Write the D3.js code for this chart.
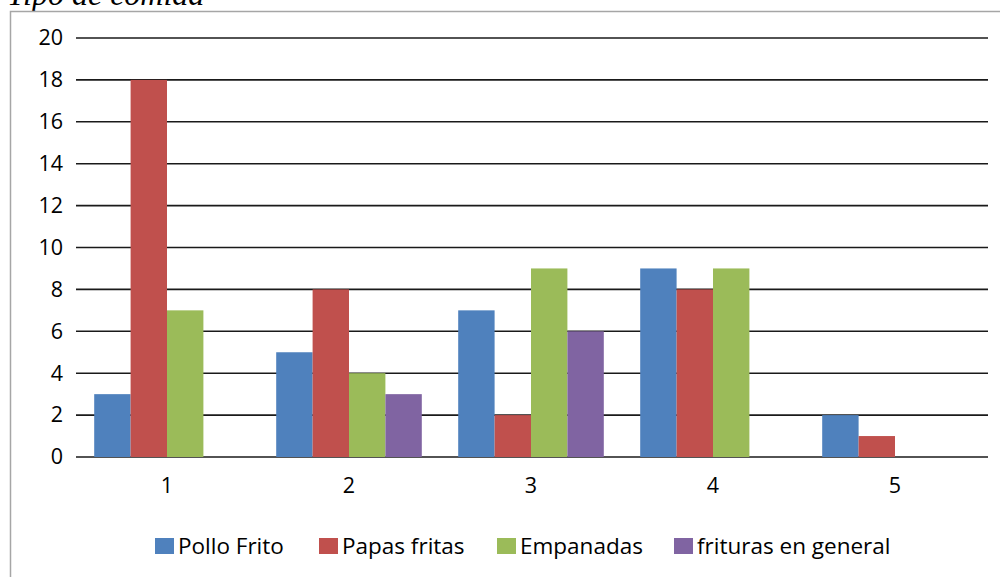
<!DOCTYPE html>
<html>
<head>
<meta charset="utf-8">
<script src="https://cdn.jsdelivr.net/npm/d3@7"></script>
<style>
  html, body { margin: 0; padding: 0; background: #fff; }
  svg { display: block; }
</style>
</head>
<body>
<svg id="chart" width="1000" height="577"></svg>
<script>
// Food type survey: counts per category
const categories = ["1", "2", "3", "4", "5"];
const seriesNames = ["Pollo Frito", "Papas fritas", "Empanadas", "frituras en general"];
const polloFrito = [3, 5, 7, 9, 2];
const papasFritas = [18, 8, 2, 8, 1];
const empanadas = [7, 4, 9, 9, 0];
const friturasGeneral = [0, 3, 6, 0, 0];
const yTicks = [0, 2, 4, 6, 8, 10, 12, 14, 16, 18, 20];
const colors = ["#4F81BD", "#C0504D", "#9BBB59", "#8064A2"];

const seriesValues = [polloFrito, papasFritas, empanadas, friturasGeneral];
const svg = d3.select("#chart");
const uiFont = "'Open Sans', 'Noto Sans', sans-serif";
const uiSize = 21.5;

// Title, partially above the frame
svg.append("text")
  .attr("x", 7).attr("y", 5)
  .attr("font-family", "'Liberation Serif', 'Times New Roman', serif")
  .attr("font-style", "italic")
  .attr("font-size", 32)
  .attr("fill", "#000")
  .text("Tipo de comida");

// Chart frame
svg.append("path")
  .attr("d", "M10.5,577 L10.5,11.5 L1000,11.5")
  .attr("fill", "none")
  .attr("stroke", "#a6a6a6")
  .attr("stroke-width", 1.5);

const x0 = d3.scaleBand().domain(categories).range([76, 986]).paddingInner(0.2).paddingOuter(0.1);
const x1 = d3.scaleBand().domain(d3.range(seriesNames.length)).range([0, x0.bandwidth()]);
const y = d3.scaleLinear().domain([0, 20]).range([457, 38]);

// Horizontal gridlines
svg.append("g").selectAll("line").data(yTicks).join("line")
  .attr("x1", 76).attr("x2", 988)
  .attr("y1", d => y(d)).attr("y2", d => y(d))
  .attr("stroke", "#1a1a1a").attr("stroke-width", 1.6);

// Bars
const groups = svg.append("g").selectAll("g").data(categories).join("g")
  .attr("transform", c => `translate(${x0(c)},0)`);
groups.selectAll("rect")
  .data((c, ci) => seriesValues.map((vals, si) => ({ si, v: vals[ci] })))
  .join("rect")
  .attr("x", d => x1(d.si))
  .attr("width", x1.bandwidth())
  .attr("y", d => y(d.v))
  .attr("height", d => y(0) - y(d.v))
  .attr("fill", d => colors[d.si]);

// Y axis labels
const yAxis = svg.append("g")
  .attr("transform", "translate(63,0)")
  .call(d3.axisLeft(y).tickValues(yTicks).tickSize(0).tickPadding(0));
yAxis.select(".domain").remove();
yAxis.selectAll("text")
  .attr("font-family", uiFont).attr("font-size", uiSize).attr("fill", "#000");

// X axis labels
const xAxis = svg.append("g")
  .attr("transform", "translate(0,478)")
  .call(d3.axisBottom(x0).tickSize(0).tickPadding(0));
xAxis.select(".domain").remove();
xAxis.selectAll("text")
  .attr("font-family", uiFont).attr("font-size", uiSize).attr("fill", "#000");

// Legend
const legendX = [155, 319, 497, 674];
const legend = svg.append("g").selectAll("g").data(seriesNames).join("g")
  .attr("transform", (d, i) => `translate(${legendX[i]},538)`);
legend.append("rect")
  .attr("width", 19).attr("height", 16)
  .attr("fill", (d, i) => colors[i]);
legend.append("text")
  .attr("x", 23).attr("y", 15.5)
  .attr("font-family", uiFont).attr("font-size", 22.5).attr("fill", "#000")
  .text(d => d);
</script>
</body>
</html>
